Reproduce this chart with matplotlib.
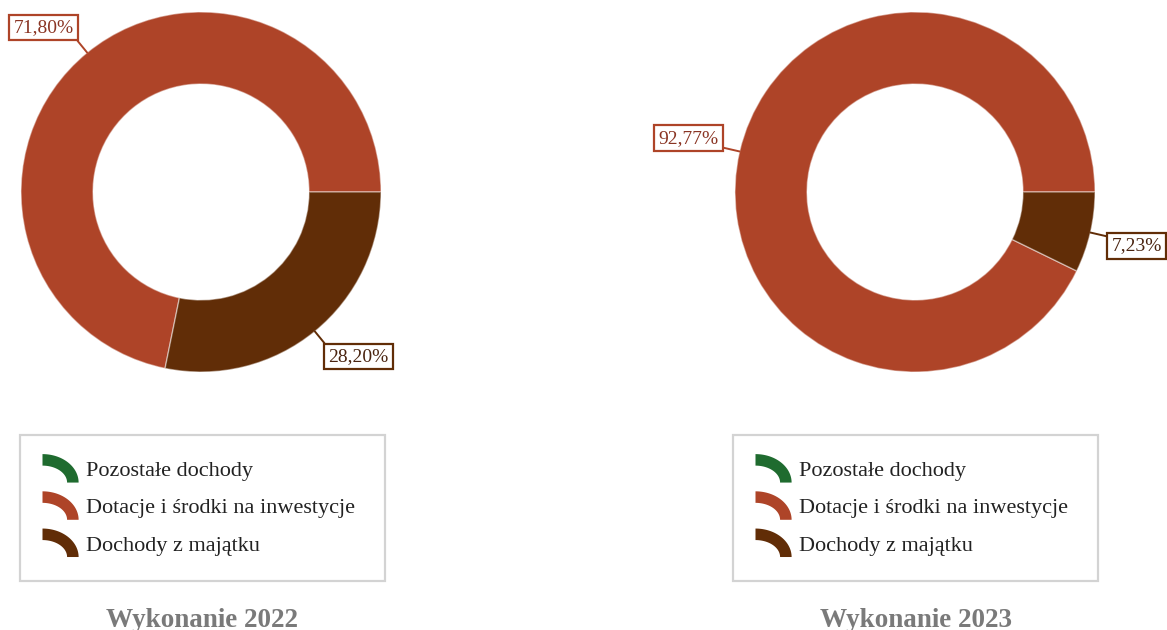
import numpy as np
import matplotlib
matplotlib.use("Agg")
from matplotlib import pyplot as plt
from matplotlib.patches import Polygon, Wedge
from matplotlib.legend_handler import HandlerBase

plt.rcParams['font.family'] = ['Liberation Serif', 'DejaVu Serif']

# dane
kategorie = ["Pozostałe dochody", "Dotacje i środki na inwestycje", "Dochody z majątku"]
wykonanie_2022 = [0.0, 71.80, 28.20]
wykonanie_2023 = [0.0, 92.77, 7.23]
tytuly = ["Wykonanie 2022", "Wykonanie 2023"]

kolory = ["#1f6b2f", "#ae4428", "#612d07"]
kolory_tekstu = ["#1f4a25", "#8a3524", "#4a2410"]


class ArcHandler(HandlerBase):
    # ikona legendy w ksztalcie cwiartki pierscienia
    def legend_artist(self, legend, orig_handle, fontsize, handlebox):
        w = 26.0
        h = 20.5
        x0 = -handlebox.xdescent - 2.2
        yc = -handlebox.ydescent + handlebox.height / 2
        y0 = yc - h / 2
        t = np.linspace(0, np.pi / 2, 40)
        th = 8.3
        outer = np.column_stack([x0 + w * np.cos(t), y0 + h * np.sin(t)])
        inner = np.column_stack([x0 + (w - th) * np.cos(t), y0 + (h - th) * np.sin(t)])
        pts = np.vstack([outer, inner[::-1]])
        p = Polygon(pts, closed=True, facecolor=orig_handle.get_facecolor(),
                    edgecolor='none', transform=handlebox.get_transform())
        handlebox.add_artist(p)
        return p


fig = plt.figure(figsize=(11.67, 6.3), dpi=100)
W, H = 1167.0, 630.0
R = 180.0
A = 1.25

centra = [(201, 192), (915, 192)]
legendy_x = [20, 733]

for k, dane in enumerate([wykonanie_2022, wykonanie_2023]):
    cx, cy = centra[k]
    size = 2 * A * R
    ax = fig.add_axes([(cx - A * R) / W, (H - cy - A * R) / H, size / W, size / H])
    ax.set_xlim(-A, A)
    ax.set_ylim(-A, A)
    ax.set_aspect('equal')
    ax.axis('off')

    wedges, _ = ax.pie(dane, colors=kolory, startangle=0, counterclock=True, radius=1,
                       wedgeprops=dict(width=0.4, edgecolor=(1, 1, 1, 0.45), linewidth=1))

    for i, wdg in enumerate(wedges):
        if dane[i] <= 0:
            continue
        ang = np.deg2rad((wdg.theta1 + wdg.theta2) / 2)
        xe, ye = np.cos(ang), np.sin(ang)
        ha = 'left' if xe > 0 else 'right'
        va = 'top' if ye < 0 else 'bottom'
        rel = (0 if xe > 0 else 1, 1 if ye < 0 else 0)
        txt = "{:.2f}%".format(dane[i]).replace('.', ',')
        ax.annotate(txt, xy=(xe, ye), xytext=(1.12 * xe, 1.12 * ye),
                    ha=ha, va=va, fontsize=14, color=kolory_tekstu[i],
                    bbox=dict(boxstyle='square,pad=0.22', facecolor='white',
                              edgecolor=kolory[i], linewidth=1.6),
                    arrowprops=dict(arrowstyle='-', color=kolory[i], lw=1.4,
                                    shrinkA=0, shrinkB=0, relpos=rel),
                    annotation_clip=False)

    lx = legendy_x[k]
    leg = fig.legend(wedges, kategorie, handler_map={Wedge: ArcHandler()},
                     loc='upper left', bbox_to_anchor=(lx / W, (H - 581) / H, 365 / W, 146 / H),
                     mode='expand', borderaxespad=0, fontsize=16, frameon=True, fancybox=False,
                     borderpad=1.15, labelspacing=0.75, handlelength=1.44, handletextpad=0.4,
                     labelcolor='#222222')
    fr = leg.get_frame()
    fr.set_edgecolor('#c8c8c8')
    fr.set_linewidth(1.6)

    fig.text((lx + 182.5) / W, 3 / H, tytuly[k], ha='center', va='baseline',
             fontsize=19.5, fontweight='bold', color='#7a7a7a')

fig.savefig("out.png", dpi=100)
